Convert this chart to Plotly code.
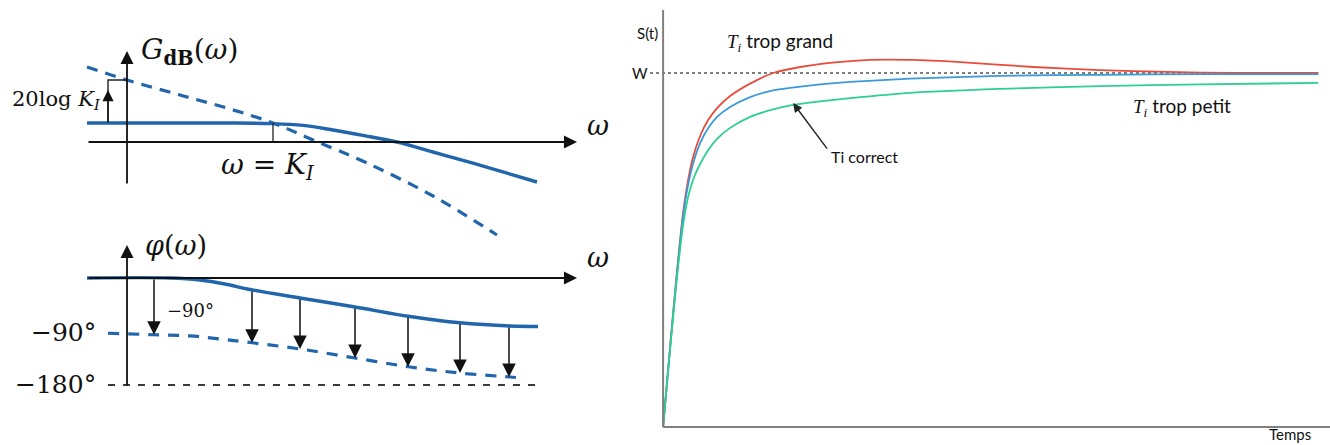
import plotly.graph_objects as go

# ---------------- Right panel: step responses S(t) ----------------
t_red = [0, 0.076, 0.153, 0.229, 0.305, 0.382, 0.458, 0.565, 0.687, 0.824, 1.023, 1.328,
         1.679, 2.092, 2.626, 3.160, 3.771, 4.534, 5.649, 6.672, 7.695, 8.702, 10.0]
s_red = [0, 0.161, 0.322, 0.472, 0.605, 0.698, 0.763, 0.822, 0.867, 0.901, 0.935, 0.970,
         1.000, 1.017, 1.030, 1.037, 1.037, 1.031, 1.017, 1.008, 1.003, 1.000, 1.000]

t_blue = [0, 0.076, 0.153, 0.229, 0.305, 0.382, 0.473, 0.565, 0.687, 0.824, 1.023, 1.328,
          1.634, 1.939, 2.397, 2.855, 3.771, 5.145, 6.672, 8.198, 10.0]
s_blue = [0, 0.161, 0.319, 0.466, 0.596, 0.684, 0.754, 0.802, 0.844, 0.876, 0.904, 0.932,
          0.949, 0.958, 0.968, 0.975, 0.984, 0.992, 0.995, 0.997, 0.997]

t_green = [0, 0.076, 0.153, 0.229, 0.305, 0.382, 0.473, 0.565, 0.687, 0.824, 1.023, 1.328,
           1.634, 1.985, 2.397, 2.855, 3.771, 5.145, 6.672, 8.198, 10.0]
s_green = [0, 0.157, 0.312, 0.452, 0.570, 0.650, 0.706, 0.743, 0.782, 0.814, 0.845, 0.876,
           0.895, 0.910, 0.920, 0.929, 0.944, 0.955, 0.963, 0.968, 0.972]

W_level = 1.0
t_end = 10.0
s_top = 1.178
t_axis_end = 10.18

# ---------------- Left panel: Bode diagram (x = log10 of omega / K_I) ----------------
mag_logw = [-1.86, -0.5, 0.0, 0.3, 0.6, 0.9, 1.24, 1.6, 2.0, 2.64]
mag_pi_db = [9.5, 9.5, 9.2, 8.3, 6.0, 3.3, 0.0, -5.0, -10.6, -20.0]

int_logw = [-1.86, -1.46, -0.93, -0.43, 0.0, 0.40, 0.94, 1.60, 2.24]
int_db = [37.5, 31.0, 23.5, 16.5, 9.5, 1.0, -10.5, -27.0, -46.5]

phase_logw = [-1.86, -1.03, -0.73, -0.48, -0.23, 0.27, 0.82, 1.37, 1.87, 2.37, 2.65]
phase_pi = [0, 0, -3.4, -10.1, -19.4, -33.7, -48.8, -64.8, -75.4, -80.8, -81.6]

phase_int_logw = [-1.65, -1.2, -0.83, -0.53, -0.23, 0.27, 0.82, 1.37, 1.87, 2.37, 2.49]
phase_int = [-93, -95.5, -97.6, -102.7, -108.6, -119.5, -134.7, -149.8, -160, -166.7, -168.4]

arrow_logw = [-1.19, -0.21, 0.27, 0.82, 1.35, 1.87, 2.36]
arrow_from = [0, -20.0, -33.7, -48.8, -64.2, -75.4, -80.7]
arrow_to = [-95.5, -109, -119.5, -134.7, -149.3, -160, -166.6]

W_PX, H_PX = 1330, 445
BLUE = "#2166ac"
SERIF = "DejaVu Serif"
SANS = "Lato"

def px(xp):
    return xp / W_PX

def py(yp):
    return 1 - yp / H_PX

fig = go.Figure()

# right panel traces
fig.add_trace(go.Scatter(x=[-0.2, t_end], y=[W_level, W_level], mode="lines",
                         line=dict(color="#555555", width=1.5, dash="dot"),
                         xaxis="x", yaxis="y", hoverinfo="skip"))
for tt, ss, col in [(t_red, s_red, "#e84c3d"), (t_blue, s_blue, "#3a9ad9"), (t_green, s_green, "#2ecf92")]:
    fig.add_trace(go.Scatter(x=tt, y=ss, mode="lines",
                             line=dict(color=col, width=1.8, shape="spline", smoothing=0.7),
                             xaxis="x", yaxis="y"))
# axes of the right panel
fig.add_trace(go.Scatter(x=[0, 0], y=[0, s_top], mode="lines", line=dict(color="#808080", width=2),
                         xaxis="x", yaxis="y"))
fig.add_trace(go.Scatter(x=[0, t_axis_end], y=[0, 0], mode="lines", line=dict(color="#808080", width=2),
                         xaxis="x", yaxis="y"))

# left top: magnitude
fig.add_trace(go.Scatter(x=int_logw, y=int_db, mode="lines",
                         line=dict(color=BLUE, width=3.2, dash="11px,8px", shape="spline"),
                         xaxis="x2", yaxis="y2"))
fig.add_trace(go.Scatter(x=mag_logw, y=mag_pi_db, mode="lines",
                         line=dict(color=BLUE, width=3.4, shape="spline"),
                         xaxis="x2", yaxis="y2"))
fig.add_trace(go.Scatter(x=[0, 0], y=[0, mag_pi_db[0]], mode="lines",
                         line=dict(color="#222222", width=1.3), xaxis="x2", yaxis="y2"))
fig.add_trace(go.Scatter(x=[-1.65, -1.65, int_logw[1]], y=[mag_pi_db[0], int_db[1], int_db[1]], mode="lines",
                         line=dict(color="#222222", width=1.4), xaxis="x2", yaxis="y2"))

# left bottom: phase
fig.add_trace(go.Scatter(x=[-1.65, 2.62], y=[-180, -180], mode="lines",
                         line=dict(color="#3a3a3a", width=2, dash="7px,8px"),
                         xaxis="x3", yaxis="y3"))
fig.add_trace(go.Scatter(x=phase_int_logw, y=phase_int, mode="lines",
                         line=dict(color=BLUE, width=3.2, dash="11px,9px", shape="spline"),
                         xaxis="x3", yaxis="y3"))
fig.add_trace(go.Scatter(x=phase_logw, y=phase_pi, mode="lines",
                         line=dict(color=BLUE, width=3.4, shape="spline"),
                         xaxis="x3", yaxis="y3"))

annotations = []

def arrow(x, y, ax, ay, xr, yr, width=1.6, size=1.0, head=2, color="#111111"):
    annotations.append(dict(x=x, y=y, ax=ax, ay=ay, xref=xr, yref=yr, axref=xr, ayref=yr,
                            text="", showarrow=True, arrowhead=head, arrowsize=size,
                            arrowwidth=width, arrowcolor=color, standoff=0, startstandoff=0))

# axes with arrows (magnitude)
arrow(3.04, 0, -1.86, 0, "x2", "y2", width=1.8, size=1.45)
arrow(-1.46, 45.5, -1.46, -21.5, "x2", "y2", width=1.8, size=1.45)
# 20 log K_I arrow
arrow(-1.65, 26, -1.65, mag_pi_db[0], "x2", "y2", width=1.4, size=1.6)
# axes with arrows (phase)
arrow(3.04, 0, -1.86, 0, "x3", "y3", width=1.8, size=1.45)
arrow(-1.46, 55.6, -1.46, -183.5, "x3", "y3", width=1.8, size=1.45)
for xa, f, tt in zip(arrow_logw, arrow_from, arrow_to):
    arrow(xa, tt, xa, f, "x3", "y3", width=1.5, size=1.8)

# Ti correct arrow
arrow(1.985, 0.915, 2.52, 0.782, "x", "y", width=1.4, size=1.3, color="#222222")

NB = "\u00a0"

def label(xp, yp, text, size, family, color="#111111", xanchor="center"):
    annotations.append(dict(x=px(xp), y=py(yp), xref="paper", yref="paper", text=text,
                            showarrow=False, xanchor=xanchor, yanchor="middle",
                            font=dict(size=size, family=family, color=color)))

# left labels
label(189, 51, "<i>G</i><sub><b>dB</b></sub>(<i>ω</i>)", 28, SERIF)
label(103, 100, "20log" + NB + "<i>K<sub>I</sub></i>", 21, SERIF, xanchor="right")
label(598, 125, "<i>ω</i>", 27, SERIF)
label(268, 166, "<i>ω</i>" + NB + "=" + NB + "<i>K<sub>I</sub></i>", 28, SERIF)
label(176, 245, "<i>φ</i>(<i>ω</i>)", 27, SERIF)
label(598, 257, "<i>ω</i>", 27, SERIF)
label(98, 332, "−90°", 25, SERIF, xanchor="right")
label(98, 384, "−180°", 25, SERIF, xanchor="right")
label(190, 310, "−90°", 18, SERIF)

# right labels
TI = "<span style='font-family:Liberation Serif'><i>T<sub>i</sub></i></span>"
label(647, 33, "S(t)", 15, SANS)
label(640, 73, "W", 15, SANS)
label(780, 42, TI + " trop grand", 19, SANS)
label(1182, 107, TI + " trop petit", 19, SANS)
label(829, 157, "Ti correct", 16, SANS, xanchor="left")
label(1290, 434, "Temps", 15, SANS)

hidden = dict(visible=False, showgrid=False, zeroline=False, fixedrange=True)

fig.update_layout(
    width=W_PX, height=H_PX,
    margin=dict(l=0, r=0, t=0, b=0),
    paper_bgcolor="white", plot_bgcolor="rgba(0,0,0,0)",
    showlegend=False,
    xaxis=dict(domain=[px(650), 1.0], range=[-0.2, t_axis_end], **hidden),
    yaxis=dict(domain=[py(435), py(10)], range=[-0.0226, s_top], **hidden),
    xaxis2=dict(domain=[0, px(620)], range=[-2.73, 3.47], anchor="y2", **hidden),
    yaxis2=dict(domain=[py(240), py(25)], range=[-49, 58.5], anchor="x2", **hidden),
    xaxis3=dict(domain=[0, px(620)], range=[-2.73, 3.47], anchor="y3", **hidden),
    yaxis3=dict(domain=[py(400), py(240)], range=[-205.39, 63.97], anchor="x3", **hidden),
    annotations=annotations,
)

fig.write_html("out.html", config={"displayModeBar": False},
               post_script="document.body.style.margin='0px';")
